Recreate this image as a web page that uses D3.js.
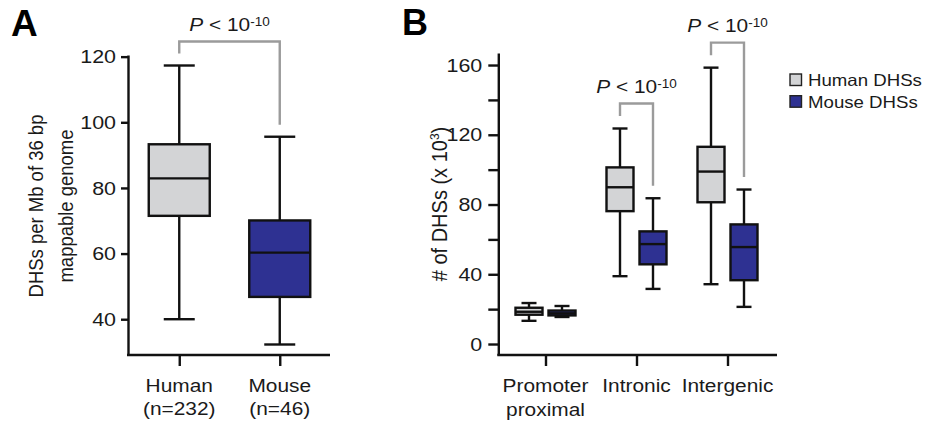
<!DOCTYPE html>
<html>
<head>
<meta charset="utf-8">
<script src="https://cdn.jsdelivr.net/npm/d3@7"></script>
<style>
  body { margin: 0; background: #fff; }
  svg { font-family: "Liberation Sans", Arial, sans-serif; }
</style>
</head>
<body>
<div id="chart"></div>
<script>
// box stats: [min, q1, median, q3, max]
const speciesA = ["Human", "Mouse"];
const labelsA = [["Human", "(n=232)"], ["Mouse", "(n=46)"]];
const humanA = [40.0, 71.5, 82.9, 93.3, 117.3];
const mouseA = [32.3, 46.8, 60.3, 70.1, 95.6];
const ticksA = [40, 60, 80, 100, 120];

const regionsB = ["Promoter proximal", "Intronic", "Intergenic"];
const labelsB = [["Promoter", "proximal"], ["Intronic"], ["Intergenic"]];
const humanB = [[13.3, 16.8, 18.5, 20.8, 23.5], [38.9, 76.2, 89.9, 101.3, 123.6], [34.3, 81.3, 98.9, 113.1, 158.5]];
const mouseB = [[15.5, 16.4, 17.6, 19.2, 21.8], [31.6, 45.7, 57.3, 64.6, 83.6], [21.3, 36.6, 55.6, 68.6, 88.6]];
const ticksB = [0, 20, 40, 60, 80, 100, 120, 140, 160];
const tickLabelsB = [0, 40, 80, 120, 160];
const comparedB = ["Intronic", "Intergenic"];

const legendNames = ["Human DHSs", "Mouse DHSs"];
const colors = ["#d3d4d6", "#2e3192"];

const SX = 1.13;  // the figure text is a bit wide
const W = 945, H = 426;
const LW = 2.4;

const svg = d3.select("#chart").append("svg")
  .attr("width", W).attr("height", H);

function txt(g, x, y, str, size, anchor, rot) {
  return g.append("text")
    .attr("transform", `translate(${x},${y}) scale(${SX},1)` + (rot ? " rotate(-90)" : ""))
    .attr("text-anchor", anchor || "middle")
    .style("font-size", size + "px")
    .attr("fill", "#1a1a1a")
    .text(str);
}

function pLabel(g, x, y) {
  const t = g.append("text")
    .attr("transform", `translate(${x},${y}) scale(${SX},1)`)
    .attr("text-anchor", "middle")
    .style("font-size", "18.5px")
    .attr("fill", "#1a1a1a");
  t.append("tspan").style("font-style", "italic").text("P");
  t.append("tspan").text(" < 10");
  t.append("tspan").attr("dy", -5).style("font-size", "12px").text("-10");
}

function box(g, cx, w, cap, s, y, fill) {
  g.append("line").attr("x1", cx).attr("x2", cx).attr("y1", y(s[0])).attr("y2", y(s[4]))
    .attr("stroke", "#111").attr("stroke-width", LW);
  [s[0], s[4]].forEach(v => {
    g.append("line").attr("x1", cx - cap / 2).attr("x2", cx + cap / 2)
      .attr("y1", y(v)).attr("y2", y(v))
      .attr("stroke", "#111").attr("stroke-width", LW);
  });
  g.append("rect").attr("x", cx - w / 2).attr("width", w)
    .attr("y", y(s[3])).attr("height", y(s[1]) - y(s[3]))
    .attr("fill", fill).attr("stroke", "#111").attr("stroke-width", LW);
  g.append("line").attr("x1", cx - w / 2).attr("x2", cx + w / 2)
    .attr("y1", y(s[2])).attr("y2", y(s[2]))
    .attr("stroke", "#111").attr("stroke-width", LW);
}

function bracket(g, x1, x2, top1, top2, gap) {
  const yl = top1 - gap, yt = yl - gap, yr = top2 - gap;
  g.append("path")
    .attr("d", `M${x1},${yl}V${yt}H${x2}V${yr}`)
    .attr("fill", "none").attr("stroke", "#9b9b9b").attr("stroke-width", LW);
  pLabel(g, (x1 + x2) / 2, yt - 11);
}

function styleAxis(a) {
  a.selectAll("line, path").attr("stroke", "#111").attr("stroke-width", LW);
}

// ---------- panel A ----------
const gA = svg.append("g");
gA.append("text").attr("x", 11).attr("y", 36).style("font-size", "37px")
  .style("font-weight", "bold").text("A");

const yA = d3.scaleLinear().domain([29.1, 120.5]).range([355, 55]);
const xA = d3.scalePoint().domain(speciesA).range([129, 330]).padding(0.5);

const axA = gA.append("g").attr("transform", "translate(128,0)")
  .call(d3.axisLeft(yA).tickValues(ticksA).tickSize(7).tickSizeOuter(0).tickPadding(3.6));
axA.selectAll("text").attr("transform", `scale(${SX},1)`).style("font-size", "19px").attr("fill", "#1a1a1a");
styleAxis(axA);

const axA2 = gA.append("g").attr("transform", "translate(0,355)")
  .call(d3.axisBottom(xA).tickSize(11).tickSizeOuter(0).tickFormat(""));
axA2.select(".domain").remove();
gA.append("line").attr("x1", 127).attr("x2", 330).attr("y1", 355).attr("y2", 355);
styleAxis(axA2);
styleAxis(gA);

labelsA.forEach((ls, i) => {
  ls.forEach((l, j) => txt(gA, xA(speciesA[i]), 391.7 + j * 23.5, l, 18.5));
});

const yTitleA = gA.append("text")
  .attr("transform", `translate(0,206) scale(${SX},1) rotate(-90)`)
  .attr("text-anchor", "middle").style("font-size", "18.5px").attr("fill", "#1a1a1a");
yTitleA.append("tspan").attr("x", 0).attr("y", 43.3 / SX).text("DHSs per Mb of 36 bp");
yTitleA.append("tspan").attr("x", 0).attr("y", 73.5 / SX).text("mappable genome");

[humanA, mouseA].forEach((s, i) => box(gA, xA(speciesA[i]), 61, 31, s, yA, colors[i]));
bracket(gA, xA("Human"), xA("Mouse"), yA(humanA[4]), yA(mouseA[4]), 12);

// ---------- panel B ----------
const gB = svg.append("g");
gB.append("text").attr("x", 402).attr("y", 35).style("font-size", "36px")
  .style("font-weight", "bold").text("B");

const yB = d3.scaleLinear().domain([-6.3, 166.9]).range([355, 53]);
const xB = d3.scalePoint().domain(regionsB).range([500, 773]).padding(0.5);
const off = 16.5, bw = 27, capB = 15;

const axB = gB.append("g").attr("transform", "translate(498.3,0)")
  .call(d3.axisLeft(yB).tickValues(ticksB).tickSize(10).tickSizeOuter(0).tickPadding(4.2)
    .tickFormat(d => tickLabelsB.includes(d) ? d : ""));
axB.selectAll("text").attr("transform", `scale(${SX},1)`).style("font-size", "19px").attr("fill", "#1a1a1a");
styleAxis(axB);

const axB2 = gB.append("g").attr("transform", "translate(0,355)")
  .call(d3.axisBottom(xB).tickSize(11).tickSizeOuter(0).tickFormat(""));
axB2.select(".domain").remove();
gB.append("line").attr("x1", 497.3).attr("x2", 777).attr("y1", 355).attr("y2", 355);
styleAxis(axB2);
styleAxis(gB);

labelsB.forEach((ls, i) => {
  ls.forEach((l, j) => txt(gB, xB(regionsB[i]), 391.7 + j * 24, l, 18.5));
});

const yTitleB = gB.append("text")
  .attr("transform", `translate(446.7,204) scale(${SX},1) rotate(-90)`)
  .attr("text-anchor", "middle").style("font-size", "20px").attr("fill", "#1a1a1a");
yTitleB.append("tspan").text("# of DHSs (x 10");
yTitleB.append("tspan").attr("dy", -7).style("font-size", "12px").text("3");
yTitleB.append("tspan").attr("dy", 7).text(")");

regionsB.forEach((r, i) => {
  box(gB, xB(r) - off, bw, capB, humanB[i], yB, colors[0]);
  box(gB, xB(r) + off, bw, capB, mouseB[i], yB, colors[1]);
});
comparedB.forEach(r => {
  const i = regionsB.indexOf(r);
  bracket(gB, xB(r) - off, xB(r) + off, yB(humanB[i][4]), yB(mouseB[i][4]), 12.5);
});

// legend
const leg = svg.append("g").attr("transform", "translate(790,74)");
legendNames.forEach((n, i) => {
  leg.append("rect").attr("x", 0).attr("y", i * 21.7).attr("width", 11.5).attr("height", 11.5)
    .attr("fill", colors[i]).attr("stroke", "#222").attr("stroke-width", 1.4);
  txt(leg, 18, i * 21.7 + 12, n, 16.5, "start");
});
</script>
</body>
</html>
